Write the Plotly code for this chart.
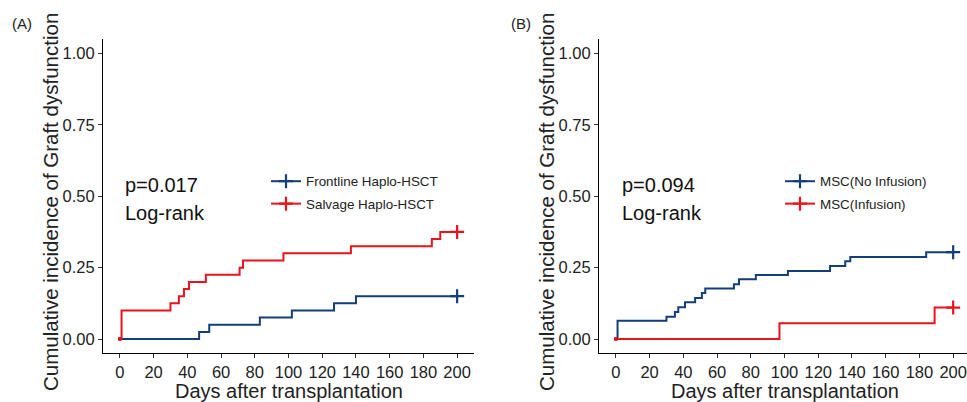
import plotly.graph_objects as go

# ---- data ----
a_front_t = [0, 47, 53, 83, 102, 127, 140, 200]
a_front_v = [0, 0.025, 0.05, 0.075, 0.10, 0.125, 0.15, 0.15]
a_salv_t = [0, 1, 30, 35, 38, 41, 51, 71, 73, 97, 137, 185, 190, 200]
a_salv_v = [0, 0.10, 0.125, 0.15, 0.175, 0.20, 0.225, 0.25, 0.275, 0.30, 0.325, 0.35, 0.375, 0.375]

b_noinf_t = [0, 1, 30, 35, 37, 41, 47, 51, 53, 70, 73, 83, 102, 127, 136, 139, 184, 200]
b_noinf_v = [0, 0.064, 0.078, 0.095, 0.111, 0.129, 0.144, 0.161, 0.177, 0.192, 0.209,
             0.224, 0.238, 0.256, 0.272, 0.287, 0.304, 0.304]
b_inf_t = [0, 97, 189, 200]
b_inf_v = [0, 0.055, 0.11, 0.11]

x_ticks = [0, 20, 40, 60, 80, 100, 120, 140, 160, 180, 200]
y_ticks = [0, 0.25, 0.5, 0.75, 1.0]
y_ticklabels = ["0.00", "0.25", "0.50", "0.75", "1.00"]

names_a = ["Frontline Haplo-HSCT", "Salvage Haplo-HSCT"]
names_b = ["MSC(No Infusion)", "MSC(Infusion)"]
pvals = ["p=0.017", "p=0.094"]

BLUE = "#123E7C"
RED = "#E8141B"
FONT = "Arial, Liberation Sans, sans-serif"

fig = go.Figure()


def add_curve(t, v, name, color, xa, ya, legend, group):
    fig.add_trace(go.Scatter(
        x=t, y=v, mode="lines", line=dict(shape="hv", color=color, width=2),
        name=name, xaxis=xa, yaxis=ya, showlegend=False, legendgroup=group))
    # censor mark at the end + legend entry (line + cross)
    fig.add_trace(go.Scatter(
        x=[t[-1]], y=[v[-1]], mode="lines+markers",
        line=dict(color=color, width=2),
        marker=dict(symbol="cross-thin", size=10, line=dict(color=color, width=2.2)),
        name=name, xaxis=xa, yaxis=ya, showlegend=True, legend=legend, legendgroup=group))
    # small dot at origin
    fig.add_trace(go.Scatter(
        x=[t[0]], y=[v[0]], mode="markers", marker=dict(color=color, size=4),
        xaxis=xa, yaxis=ya, showlegend=False, hoverinfo="skip"))


add_curve(a_front_t, a_front_v, names_a[0], BLUE, "x", "y", "legend", "a1")
add_curve(a_salv_t, a_salv_v, names_a[1], RED, "x", "y", "legend", "a2")
add_curve(b_noinf_t, b_noinf_v, names_b[0], BLUE, "x2", "y2", "legend2", "b1")
add_curve(b_inf_t, b_inf_v, names_b[1], RED, "x2", "y2", "legend2", "b2")

W, H = 967, 402
yd = [(H - 353.3) / H, (H - 39.2) / H]
xdA = [103 / W, 474 / W]
xdB = [599 / W, 1.0]

axis_common = dict(showline=True, linecolor="black", linewidth=1, ticks="outside",
                   ticklen=4, tickwidth=1, tickcolor="#333", showgrid=False, zeroline=False,
                   tickfont=dict(family=FONT, size=16.5, color="#222"), automargin=False)

legend_common = dict(font=dict(family=FONT, size=13.4, color="#222"), bgcolor="rgba(0,0,0,0)",
                     tracegroupgap=2, itemwidth=30, xanchor="left", yanchor="top",
                     traceorder="grouped")

fig.update_layout(
    width=W, height=H, margin=dict(l=0, r=0, t=0, b=0),
    paper_bgcolor="white", plot_bgcolor="white",
    xaxis=dict(domain=xdA, range=[-10, 210], tickvals=x_ticks, anchor="y", **axis_common),
    yaxis=dict(domain=yd, range=[-0.05, 1.05], tickvals=y_ticks, ticktext=y_ticklabels,
               anchor="x", **axis_common),
    xaxis2=dict(domain=xdB, range=[-10, 208.2], tickvals=x_ticks, anchor="y2", **axis_common),
    yaxis2=dict(domain=yd, range=[-0.05, 1.05], tickvals=y_ticks, ticktext=y_ticklabels,
                anchor="x2", **axis_common),
    legend=dict(x=266 / W, y=1 - 166 / H, **legend_common),
    legend2=dict(x=780 / W, y=1 - 166 / H, **legend_common),
    showlegend=True,
)

ann = []
for i, (dom, lab, xl, ylab_x) in enumerate([(xdA, "(A)", 10, 50), (xdB, "(B)", 509, 546)]):
    xc = (dom[0] + dom[1]) / 2 if i == 0 else (599 + 970) / 2 / W
    ann.append(dict(text="Days after transplantation", xref="paper", yref="paper",
                    x=xc, y=1 - 391 / H, xanchor="center", yanchor="middle", showarrow=False,
                    font=dict(family=FONT, size=20, color="#222")))
    ann.append(dict(text="Cumulative incidence of Graft dysfunction", xref="paper", yref="paper",
                    x=ylab_x / W, y=1 - 202 / H, xanchor="center", yanchor="middle",
                    textangle=-90, showarrow=False,
                    font=dict(family=FONT, size=20.5, color="#222")))
    ann.append(dict(text=lab, xref="paper", yref="paper", x=xl / W, y=1 - 23 / H,
                    xanchor="left", yanchor="middle", showarrow=False,
                    font=dict(family=FONT, size=15, color="#222")))
    px = 123 if i == 0 else 620
    ann.append(dict(text=pvals[i], xref="paper", yref="paper", x=px / W, y=1 - 185 / H,
                    xanchor="left", yanchor="middle", showarrow=False,
                    font=dict(family=FONT, size=20, color="#111")))
    ann.append(dict(text="Log-rank", xref="paper", yref="paper", x=px / W, y=1 - 213 / H,
                    xanchor="left", yanchor="middle", showarrow=False,
                    font=dict(family=FONT, size=20, color="#111")))

fig.update_layout(annotations=ann)
fig.write_html("out.html", post_script="document.body.style.margin='0';",
               config={"displayModeBar": False})
